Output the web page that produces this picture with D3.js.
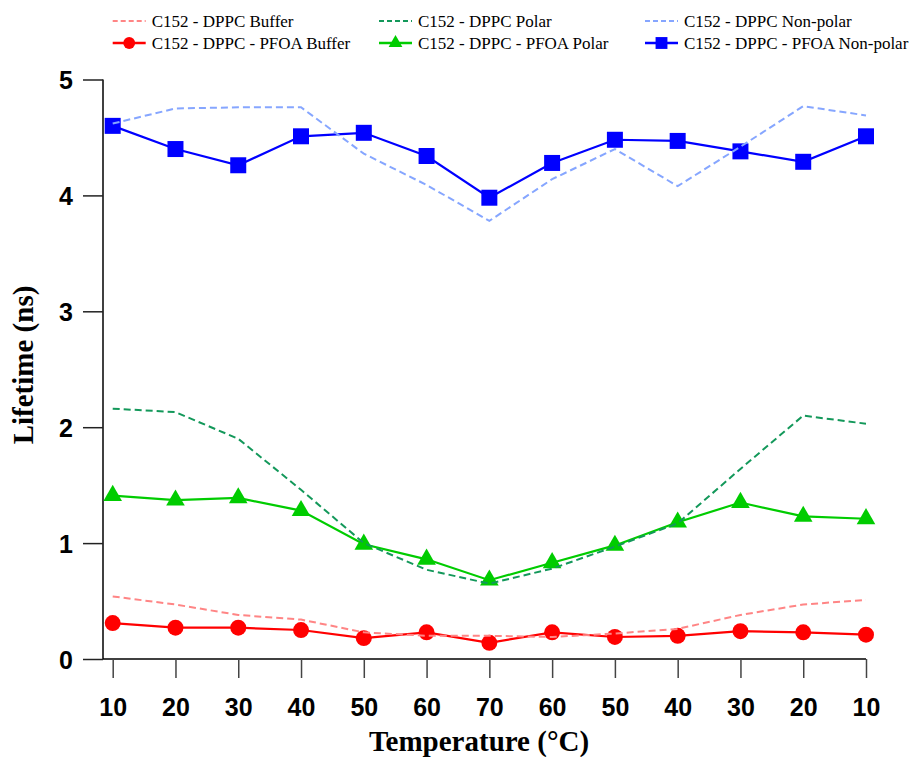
<!DOCTYPE html>
<html>
<head>
<meta charset="utf-8">
<script src="https://cdn.jsdelivr.net/npm/d3@7"></script>
<style>
  html, body { margin: 0; padding: 0; background: #fff; }
  svg { display: block; }
</style>
</head>
<body>
<div id="chart"></div>
<script>
// Temperature ramp: heating 10 -> 70, then cooling back to 10
const tempLabels = ['10', '20', '30', '40', '50', '60', '70', '60', '50', '40', '30', '20', '10'];
const yTicks = [0, 1, 2, 3, 4, 5];

const dppcBuffer = [0.54, 0.47, 0.38, 0.34, 0.23, 0.20, 0.20, 0.19, 0.22, 0.26, 0.38, 0.47, 0.51];
const dppcPolar = [2.16, 2.13, 1.90, 1.46, 1.00, 0.77, 0.65, 0.78, 0.97, 1.17, 1.64, 2.10, 2.03];
const dppcNonpolar = [4.62, 4.75, 4.76, 4.76, 4.36, 4.09, 3.78, 4.14, 4.40, 4.08, 4.42, 4.77, 4.69];
const pfoaBuffer = [0.31, 0.27, 0.27, 0.25, 0.18, 0.23, 0.14, 0.23, 0.19, 0.20, 0.24, 0.23, 0.21];
const pfoaPolar = [1.41, 1.37, 1.39, 1.28, 0.99, 0.86, 0.68, 0.83, 0.98, 1.18, 1.35, 1.23, 1.21];
const pfoaNonpolar = [4.60, 4.40, 4.26, 4.51, 4.54, 4.34, 3.98, 4.28, 4.48, 4.47, 4.38, 4.29, 4.51];

const series = [
  { name: 'C152 - DPPC - PFOA Buffer', values: pfoaBuffer, color: '#ff0000', dashed: false, symbol: d3.symbolCircle, size: 200 },
  { name: 'C152 - DPPC - PFOA Polar', values: pfoaPolar, color: '#00cc00', dashed: false, symbol: d3.symbolTriangle, size: 150 },
  { name: 'C152 - DPPC - PFOA Non-polar', values: pfoaNonpolar, color: '#0000ff', dashed: false, symbol: d3.symbolSquare, size: 256 },
  { name: 'C152 - DPPC Buffer', values: dppcBuffer, color: '#ff8585', dashed: true },
  { name: 'C152 - DPPC Polar', values: dppcPolar, color: '#13985a', dashed: true },
  { name: 'C152 - DPPC Non-polar', values: dppcNonpolar, color: '#86a6ff', dashed: true },
];

const width = 913, height = 757;
const svg = d3.select('#chart').append('svg')
  .attr('width', width)
  .attr('height', height);

const x = d3.scaleLinear().domain([0, tempLabels.length - 1]).range([112.7, 866]);
const y = d3.scaleLinear().domain([0, 5]).range([659, 79.5]);

// y axis
const yAxis = svg.append('g').attr('transform', 'translate(103,0)')
  .call(d3.axisLeft(y).tickValues(yTicks).tickSize(20).tickPadding(10).tickFormat(d3.format('d')));
yAxis.select('.domain').attr('d', `M0,${y(5)}V${y(0)}`).attr('stroke', '#000').attr('stroke-width', 1.5);
yAxis.selectAll('.tick line').attr('stroke', '#222').attr('stroke-width', 1.5);
yAxis.selectAll('.tick text')
  .attr('font-family', 'Liberation Sans, Arial, sans-serif')
  .attr('font-weight', 'bold')
  .attr('font-size', 25)
  .attr('fill', '#000')
  .attr('dy', '0.36em');

// x axis
const xAxis = svg.append('g').attr('transform', `translate(0,${y(0)})`)
  .call(d3.axisBottom(x).tickValues(d3.range(tempLabels.length)).tickSize(19).tickPadding(20)
    .tickFormat((i) => tempLabels[i]));
xAxis.select('.domain').attr('d', `M${103},0H${x(12)}`).attr('stroke', '#000').attr('stroke-width', 1.5);
xAxis.selectAll('.tick line').attr('stroke', '#444').attr('stroke-width', 1.5);
xAxis.selectAll('.tick text')
  .attr('font-family', 'Liberation Sans, Arial, sans-serif')
  .attr('font-weight', 'bold')
  .attr('font-size', 25)
  .attr('fill', '#000');

// axis titles
svg.append('text')
  .attr('x', 479).attr('y', 751)
  .attr('text-anchor', 'middle')
  .attr('font-family', 'Liberation Serif, Times New Roman, serif')
  .attr('font-weight', 'bold')
  .attr('font-size', 29)
  .text('Temperature (°C)');

svg.append('text')
  .attr('transform', 'translate(33,365) rotate(-90)')
  .attr('text-anchor', 'middle')
  .attr('font-family', 'Liberation Serif, Times New Roman, serif')
  .attr('font-weight', 'bold')
  .attr('font-size', 29)
  .text('Lifetime (ns)');

// lines
const line = d3.line().x((d, i) => x(i)).y((d) => y(d));

const plot = svg.append('g');
series.forEach((s) => {
  plot.append('path')
    .datum(s.values)
    .attr('fill', 'none')
    .attr('stroke', s.color)
    .attr('stroke-width', s.dashed ? 2 : 2.2)
    .attr('stroke-dasharray', s.dashed ? '7,4' : null)
    .attr('d', line);
  if (s.symbol) {
    plot.append('g').selectAll('path')
      .data(s.values)
      .join('path')
      .attr('transform', (d, i) => `translate(${x(i)},${y(d)})`)
      .attr('d', d3.symbol(s.symbol, s.size))
      .attr('fill', s.color);
  }
});

// legend: 2 rows x 3 columns
const legendOrder = [
  [series[3], 0, 0], [series[4], 1, 0], [series[5], 2, 0],
  [series[0], 0, 1], [series[1], 1, 1], [series[2], 2, 1],
];
const colX = [112.7, 379, 645];
const rowY = [21, 43];
const legend = svg.append('g');
legendOrder.forEach(([s, c, r]) => {
  const g = legend.append('g').attr('transform', `translate(${colX[c]},${rowY[r]})`);
  g.append('line')
    .attr('x1', 0).attr('x2', 33)
    .attr('stroke', s.color)
    .attr('stroke-width', s.dashed ? 2 : 2.5)
    .attr('stroke-dasharray', s.dashed ? '5,3' : null);
  if (s.symbol) {
    g.append('path')
      .attr('transform', 'translate(16.5,0)')
      .attr('d', d3.symbol(s.symbol, s.size * 0.55))
      .attr('fill', s.color);
  }
  g.append('text')
    .attr('x', 39)
    .attr('dy', '0.35em')
    .attr('font-family', 'Liberation Serif, Times New Roman, serif')
    .attr('font-size', 17)
    .attr('fill', '#000')
    .text(s.name);
});
</script>
</body>
</html>
